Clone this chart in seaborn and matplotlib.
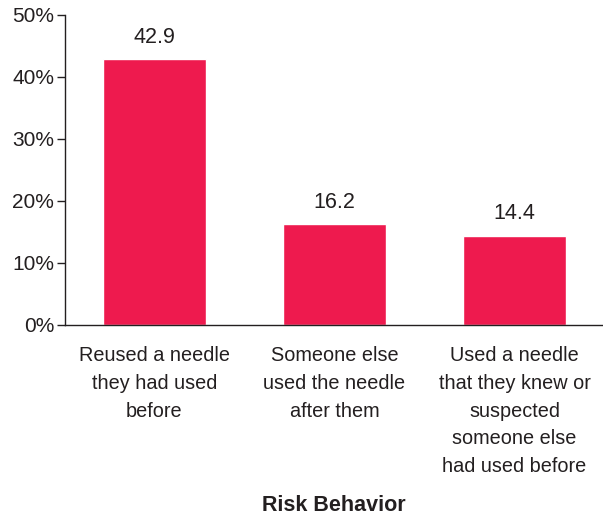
import matplotlib
matplotlib.use("Agg")
import matplotlib.pyplot as plt
import seaborn as sns
import pandas as pd

# data
behaviors = [
    "Reused a needle\nthey had used\nbefore",
    "Someone else\nused the needle\nafter them",
    "Used a needle\nthat they knew or\nsuspected\nsomeone else\nhad used before",
]
percents = [42.9, 16.2, 14.4]
y_ticks = [0, 10, 20, 30, 40, 50]

df = pd.DataFrame({"behavior": behaviors, "percent": percents})

sns.set_style("white")
plt.rcParams["font.family"] = ["Liberation Sans", "DejaVu Sans"]
text_color = "#231f20"

fig = plt.figure(figsize=(6.03, 5.14), dpi=100)
ax = fig.add_axes([0.108, 0.368, 0.890, 0.603])

sns.barplot(data=df, x="behavior", y="percent", color="#ee1a4e",
            width=0.57, saturation=1, ax=ax)

for container in ax.containers:
    ax.bar_label(container, fmt="%.1f", padding=8, fontsize=15.5, color=text_color)

ax.set_ylim(0, 50)
ax.set_xlim(-0.496, 2.485)
ax.set_yticks(y_ticks)
ax.set_yticklabels([f"{t}%" for t in y_ticks], fontsize=15, color=text_color)
ax.set_xticks(range(len(behaviors)))
ax.set_xticklabels(behaviors, fontsize=14.3, color=text_color, linespacing=1.58)
ax.tick_params(axis="y", left=True, length=6, width=1, color=text_color, pad=2)
ax.tick_params(axis="x", bottom=False, pad=12)

sns.despine(ax=ax, top=True, right=True)
for side in ["left", "bottom"]:
    ax.spines[side].set_color(text_color)
    ax.spines[side].set_linewidth(1)

ax.set_ylabel("")
ax.set_xlabel("")
fig.text(0.554, 0.0175, "Risk Behavior", ha="center", va="center",
         fontsize=15.5, fontweight="bold", color=text_color)

fig.savefig("out.png", dpi=100)
